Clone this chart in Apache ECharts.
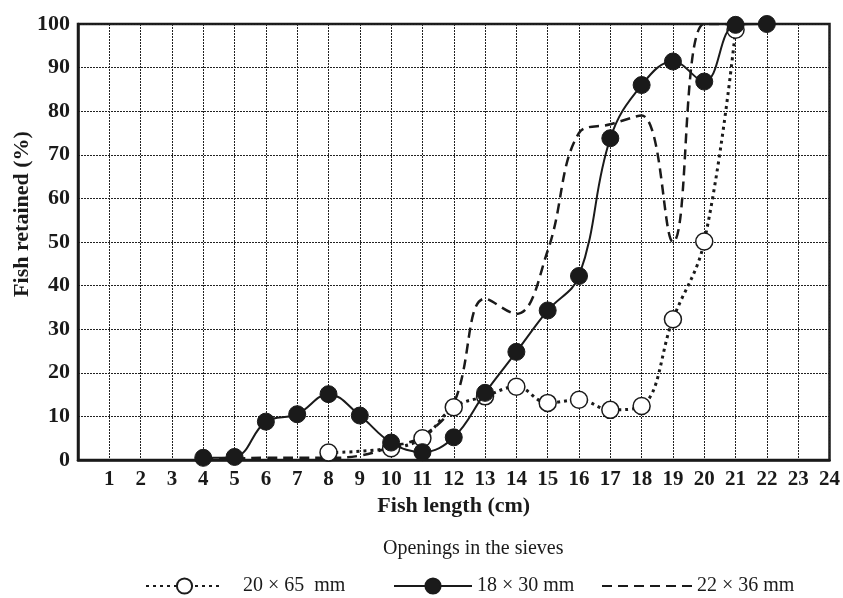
<!DOCTYPE html>
<html>
<head>
<meta charset="utf-8">
<script src="https://cdn.jsdelivr.net/npm/echarts@6/dist/echarts.min.js"></script>
<style>
html,body{margin:0;padding:0;background:#fff;}
#chart{width:843px;height:598px;}
</style>
</head>
<body>
<div id="chart"></div>
<script>
// ---- data ----
const xTicks = [1,2,3,4,5,6,7,8,9,10,11,12,13,14,15,16,17,18,19,20,21,22,23,24];
const yTicks = [0,10,20,30,40,50,60,70,80,90,100];

const lenA = [8,10,11,12,13,14,15,16,17,18,19,20,21];
const valA = [1.7,2.7,5.0,12.1,14.6,16.8,13.1,13.8,11.5,12.4,32.3,50.1,98.7];

const lenB = [4,5,6,7,8,9,10,11,12,13,14,15,16,17,18,19,20,21,22];
const valB = [0.5,0.7,8.8,10.5,15.1,10.2,4.0,1.8,5.2,15.4,24.8,34.3,42.2,73.8,86.0,91.4,86.8,99.8,100];

const lenC = [4,5,6,7,8,9,10,11,12,13,14,15,16,17,18,19,20,21];
const valC = [0.2,0.3,0.5,0.5,0.5,1.0,3.0,5.5,13,37,33.5,48,75,77,79,50,100,100];

const nameA = '20 × 65  mm';
const nameB = '18 × 30 mm';
const nameC = '22 × 36 mm';

const pairs = (xs, ys) => xs.map((x, i) => [x, ys[i]]);
const serif = 'Liberation Serif, Times New Roman, serif';

const chart = echarts.init(document.getElementById('chart'), null, {renderer: 'canvas'});
chart.setOption({
  animation: false,
  backgroundColor: '#fff',
  grid: {left: 78, right: 13, top: 24, bottom: 138, show: true, borderColor: '#1a1a1a', borderWidth: 2.5},
  title: {
    text: 'Openings in the sieves', left: 378, top: 534,
    textStyle: {fontFamily: serif, fontSize: 20, fontWeight: 'normal', color: '#1a1a1a'}
  },
  xAxis: {
    type: 'value', min: 0, max: 24, interval: 1,
    name: 'Fish length (cm)', nameLocation: 'middle', nameGap: 34,
    nameTextStyle: {fontFamily: serif, fontSize: 22, fontWeight: 'bold', color: '#1a1a1a'},
    axisLine: {show: true, onZero: false, lineStyle: {color: '#1a1a1a', width: 2.5}},
    axisTick: {show: false},
    axisLabel: {
      margin: 9, fontFamily: serif, fontSize: 21, fontWeight: 'bold', color: '#1a1a1a',
      formatter: v => xTicks.indexOf(v) >= 0 ? String(v) : ''
    },
    splitLine: {show: true, lineStyle: {color: '#222', width: 1, type: [2, 1]}}
  },
  yAxis: {
    type: 'value', min: 0, max: 100, interval: 10,
    axisLine: {show: true, lineStyle: {color: '#1a1a1a', width: 2.5}},
    axisTick: {show: false},
    axisLabel: {
      margin: 8, fontFamily: serif, fontSize: 22, fontWeight: 'bold', color: '#1a1a1a',
      formatter: v => yTicks.indexOf(v) >= 0 ? String(v) : ''
    },
    splitLine: {show: true, lineStyle: {color: '#222', width: 1, type: [2, 1]}}
  },
  graphic: [{
    type: 'text', x: 22, y: 214, rotation: Math.PI / 2,
    style: {text: 'Fish retained (%)', fontFamily: serif, fontSize: 22, fontWeight: 'bold',
            fill: '#1a1a1a', align: 'center', verticalAlign: 'middle'}
  }],
  legend: [
    {data: [nameA], left: 140, top: 571, itemWidth: 77, itemHeight: 19, itemGap: 0,
     formatter: '   {name}',
     textStyle: {fontFamily: serif, fontSize: 20, color: '#1a1a1a'}},
    {data: [nameB], left: 388, top: 571, itemWidth: 78, itemHeight: 19, itemGap: 0,
     textStyle: {fontFamily: serif, fontSize: 20, color: '#1a1a1a'}},
    {data: [{name: nameC, itemStyle: {opacity: 0}}], left: 596, top: 571, itemWidth: 90, itemHeight: 19, itemGap: 0,
     textStyle: {fontFamily: serif, fontSize: 20, color: '#1a1a1a'}}
  ],
  series: [
    {
      name: nameC, type: 'line', data: pairs(lenC, valC), smooth: 0.4,
      symbol: 'none', z: 2,
      lineStyle: {color: '#1a1a1a', width: 2.5, type: [10, 6]},
      itemStyle: {color: '#1a1a1a'}
    },
    {
      name: nameA, type: 'line', data: pairs(lenA, valA), smooth: 0.4,
      symbol: 'circle', symbolSize: 17, showAllSymbol: true, z: 3,
      lineStyle: {color: '#1a1a1a', width: 3, type: [3, 4]},
      itemStyle: {color: '#fff', borderColor: '#1a1a1a', borderWidth: 1.5}
    },
    {
      name: nameB, type: 'line', data: pairs(lenB, valB), smooth: 0.4,
      symbol: 'circle', symbolSize: 17, showAllSymbol: true, z: 4,
      lineStyle: {color: '#1a1a1a', width: 2},
      itemStyle: {color: '#1a1a1a', borderColor: '#1a1a1a', borderWidth: 1}
    }
  ]
});
</script>
</body>
</html>
